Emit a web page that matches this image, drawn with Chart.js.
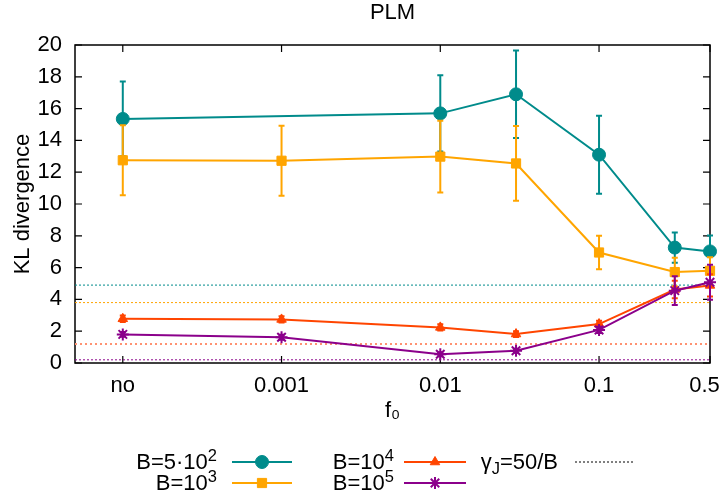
<!DOCTYPE html>
<html>
<head>
<meta charset="utf-8">
<script src="https://cdn.jsdelivr.net/npm/chart.js@4/dist/chart.umd.min.js"></script>
<style>
html,body{margin:0;padding:0;background:#fff;}
#wrap{position:relative;width:723px;height:499px;overflow:hidden;}
#legend{position:absolute;left:0;top:0;width:723px;height:499px;pointer-events:none;font-family:"Liberation Sans",Arial,sans-serif;font-size:22px;color:#000;}
.lt{position:absolute;white-space:nowrap;text-align:right;line-height:22px;transform:translateY(-50%);}
.lt sup{font-size:0.75em;vertical-align:0.5em;line-height:0;}
.lt sub{font-size:0.75em;vertical-align:-0.3em;line-height:0;}
</style>
</head>
<body>
<div id="wrap">
<canvas id="c" width="723" height="499"></canvas>
<div id="legend"></div>
</div>
<script>
// ---- data ----
const fValues      = [1e-4, 1e-3, 1e-2, 0.03, 0.1, 0.3, 0.5];   // "no" plotted at 1e-4
const xTickValues  = [1e-4, 1e-3, 1e-2, 1e-1, 0.5];
const xTickLabels  = ['no', '0.001', '0.01', '0.1', '0.5\u2002'];

const klB500  = [15.35, null, 15.7, 16.9, 13.1, 7.26, 7.02];
const errB500 = [2.35,  null, 2.4,  2.75, 2.45, 0.95, 1.0];
const klB1e3  = [12.75, 12.72, 12.98, 12.55, 6.95, 5.72, 5.8];
const errB1e3 = [2.2,   2.2,   2.25,  2.35,  1.05, 0.9,  0.85];
const klB1e4  = [2.78, 2.74, 2.24, 1.82, 2.45, 4.62, 4.88];
const errB1e4 = [0.2,  0.2,  0.2,  0.18, 0.2, 0.55, 0.7];
const klB1e5  = [1.8,  1.62, 0.55, 0.77, 2.08, 4.55, 5.08];
const errB1e5 = [0.15, 0.15, 0.12, 0.12, 0.2,  0.9,  1.1];

const gammaRef = [4.9, 3.8, 1.2, 0.2];   // gamma_J = 50/B reference levels

const seriesNames   = ['B=5·10²', 'B=10³', 'B=10⁴', 'B=10⁵'];
const seriesColors  = ['#008b8b', '#ffa500', '#ff4500', '#8b008b'];
const refColors     = ['#008b8b', '#ffa500', '#ff9272', '#8b008b'];
const markerStyles  = ['circle', 'rect', 'triangle', 'star'];
const markerRadius  = [6.5, 6.5, 5.5, 6];
const markerBorder  = [1, 1, 1, 2];

const X_MIN = 5e-5, X_MAX = 0.5;

function pts(vals, errs) {
  return fValues.map((f, i) => ({x: f, y: vals[i], err: errs[i]})).filter(p => p.y !== null);
}
const seriesVals = [klB500, klB1e3, klB1e4, klB1e5];
const seriesErrs = [errB500, errB1e3, errB1e4, errB1e5];

const datasets = [];
seriesVals.forEach((v, k) => {
  datasets.push({
    label: seriesNames[k],
    data: pts(v, seriesErrs[k]),
    borderColor: seriesColors[k],
    backgroundColor: seriesColors[k],
    pointBackgroundColor: seriesColors[k],
    pointBorderColor: seriesColors[k],
    pointStyle: markerStyles[k],
    pointRadius: markerRadius[k],
    pointBorderWidth: markerBorder[k],
    borderWidth: 2,
    tension: 0,
    clip: false,
    order: 4 - k,
    errorBars: true
  });
});
gammaRef.forEach((g, k) => {
  datasets.push({
    label: 'ref' + k,
    data: [{x: X_MIN, y: g}, {x: X_MAX, y: g}],
    borderColor: refColors[k],
    borderWidth: k === 2 ? 2 : 1,
    borderDash: k === 2 ? [2, 3] : [2, 2],
    pointRadius: 0,
    order: 10
  });
});

const ctxEl = document.getElementById('c');
const FONT = '"Liberation Sans", Arial, sans-serif';
Chart.defaults.font.family = FONT;
Chart.defaults.font.size = 22;
Chart.defaults.color = '#000';

const errorBarPlugin = {
  id: 'errorBars',
  beforeDatasetDraw(chart, args) {
    const ds = chart.data.datasets[args.index];
    if (!ds.errorBars) return;
    const xs = chart.scales.x, ys = chart.scales.y, ctx = chart.ctx;
    ctx.save();
    ctx.strokeStyle = ds.borderColor;
    ctx.lineWidth = 2;
    ds.data.forEach(p => {
      const px = xs.getPixelForValue(p.x);
      const yt = ys.getPixelForValue(p.y + p.err);
      const yb = ys.getPixelForValue(p.y - p.err);
      ctx.beginPath();
      ctx.moveTo(px, yt); ctx.lineTo(px, yb);
      ctx.moveTo(px - 3, yt); ctx.lineTo(px + 3, yt);
      ctx.moveTo(px - 3, yb); ctx.lineTo(px + 3, yb);
      ctx.stroke();
    });
    ctx.restore();
  }
};

const framePlugin = {
  id: 'frame',
  beforeDatasetsDraw(chart) {
    const {ctx, chartArea: a} = chart;
    const xs = chart.scales.x, ys = chart.scales.y;
    ctx.save();
    ctx.strokeStyle = '#000';
    ctx.lineWidth = 1.5;
    ctx.strokeRect(a.left, a.top, a.right - a.left, a.bottom - a.top);
    ctx.beginPath();
    const TL = 7;
    ys.ticks.forEach(t => {
      const y = ys.getPixelForValue(t.value);
      ctx.moveTo(a.left, y); ctx.lineTo(a.left + TL, y);
      ctx.moveTo(a.right, y); ctx.lineTo(a.right - TL, y);
    });
    xTickValues.forEach(v => {
      const x = xs.getPixelForValue(v);
      ctx.moveTo(x, a.bottom); ctx.lineTo(x, a.bottom - TL);
      ctx.moveTo(x, a.top); ctx.lineTo(x, a.top + TL);
    });
    ctx.lineWidth = 1.2;
    ctx.stroke();
    ctx.restore();
  }
};

// legend sample positions (layout only)
const legendSlots = [
  {x1: 232, x2: 292, y: 462},
  {x1: 232, x2: 292, y: 483},
  {x1: 404, x2: 466, y: 462},
  {x1: 404, x2: 466, y: 483}
];
const legendRefSlot = {x1: 575, x2: 634, y: 462};

const legendSamplePlugin = {
  id: 'legendSamples',
  afterDraw(chart) {
    const ctx = chart.ctx;
    legendSlots.forEach((s, k) => {
      const ds = chart.data.datasets[k];
      ctx.save();
      ctx.strokeStyle = ds.borderColor;
      ctx.lineWidth = 2;
      ctx.beginPath(); ctx.moveTo(s.x1, s.y); ctx.lineTo(s.x2, s.y); ctx.stroke();
      ctx.fillStyle = ds.pointBackgroundColor;
      ctx.strokeStyle = ds.pointBorderColor;
      ctx.lineWidth = ds.pointBorderWidth;
      Chart.helpers.drawPoint(ctx, {pointStyle: ds.pointStyle, radius: ds.pointRadius, rotation: 0, borderWidth: ds.pointBorderWidth}, (s.x1 + s.x2) / 2, s.y);
      ctx.restore();
    });
    ctx.save();
    ctx.strokeStyle = '#000';
    ctx.lineWidth = 1;
    ctx.setLineDash([2, 2]);
    ctx.beginPath(); ctx.moveTo(legendRefSlot.x1, legendRefSlot.y); ctx.lineTo(legendRefSlot.x2, legendRefSlot.y); ctx.stroke();
    ctx.restore();
  }
};

new Chart(ctxEl, {
  type: 'line',
  data: {datasets},
  plugins: [errorBarPlugin, framePlugin, legendSamplePlugin],
  options: {
    responsive: false,
    animation: false,
    layout: {padding: {left: 0, right: 13, top: 0, bottom: 64}},
    plugins: {
      legend: {display: false},
      tooltip: {enabled: false},
      title: {
        display: true, text: 'PLM', fullSize: false,
        font: {size: 22, weight: 'normal'}, color: '#000',
        padding: {top: 0, bottom: 18.6}
      }
    },
    scales: {
      x: {
        type: 'logarithmic', min: X_MIN, max: X_MAX, bounds: 'data',
        grid: {display: false, drawTicks: false},
        border: {display: false},
        afterBuildTicks(scale) { scale.ticks = xTickValues.map(v => ({value: v})); },
        afterFit(scale) { scale.height = 72; scale.paddingLeft = 0; scale.paddingRight = 0; },
        ticks: {
          autoSkip: false, maxRotation: 0, minRotation: 0, padding: 10,
          callback: (v, i) => xTickLabels[i]
        },
        title: {display: true, text: 'f₀', font: {size: 22}, padding: {top: 0, bottom: 11}}
      },
      y: {
        min: 0, max: 20,
        grid: {display: false, drawTicks: false},
        border: {display: false},
        afterFit(scale) { scale.width = 75; scale.paddingTop = 0; scale.paddingBottom = 0; },
        ticks: {stepSize: 2, padding: 13},
        title: {display: true, text: 'KL divergence', font: {size: 22}, padding: {top: 10, bottom: 0}}
      }
    }
  }
});

// HTML legend text
const legendTexts = [
  {html: 'B=5·10<sup>2</sup>', right: 217, y: 462},
  {html: 'B=10<sup>3</sup>',   right: 217, y: 483},
  {html: 'B=10<sup>4</sup>',   right: 394, y: 462},
  {html: 'B=10<sup>5</sup>',   right: 394, y: 483},
  {html: 'γ<sub>J</sub>=50/B', right: 558, y: 462}
];
const legEl = document.getElementById('legend');
legendTexts.forEach(t => {
  const d = document.createElement('div');
  d.className = 'lt';
  d.innerHTML = t.html;
  d.style.right = (723 - t.right) + 'px';
  d.style.top = t.y + 'px';
  legEl.appendChild(d);
});
</script>
</body>
</html>
